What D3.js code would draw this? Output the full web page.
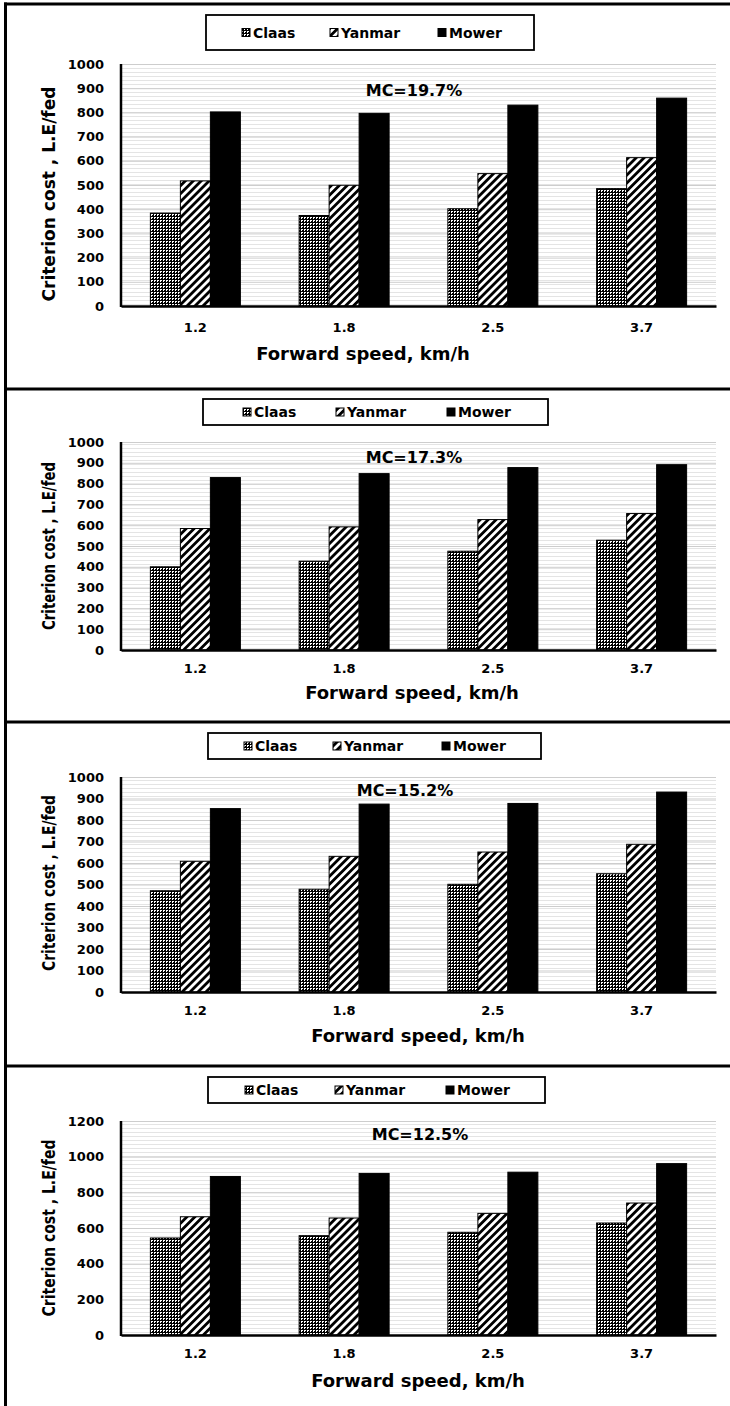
<!DOCTYPE html>
<html><head><meta charset="utf-8">
<script src="https://cdn.jsdelivr.net/npm/d3@7"></script>
<style>body{margin:0;background:#fff} svg{display:block} text{font-family:"DejaVu Sans",sans-serif}</style>
</head><body><svg id="c" width="730" height="1406"></svg>
<script>
// ---- data ----
const speeds = ["1.2", "1.8", "2.5", "3.7"];
const seriesNames = ["Claas", "Yanmar", "Mower"];
const mcLabels = ["MC=19.7%", "MC=17.3%", "MC=15.2%", "MC=12.5%"];
const claasValues  = [[384, 374, 402, 485], [400, 427, 475, 528], [471, 478, 501, 550], [544, 557, 576, 628]];
const yanmarValues = [[517, 499, 547, 613], [584, 592, 627, 656], [608, 631, 651, 687], [663, 656, 682, 740]];
const mowerValues  = [[802, 796, 830, 859], [829, 848, 877, 891], [853, 874, 877, 930], [889, 906, 913, 961]];
const yMaxes = [1000, 1000, 1000, 1200];
const yTicks1000 = [0, 100, 200, 300, 400, 500, 600, 700, 800, 900, 1000];
const yTicks1200 = [0, 200, 400, 600, 800, 1000, 1200];
const xTitleText = "Forward speed, km/h";
const yTitleText = "Criterion cost , L.E/fed";

// ---- layout ----
const layout = [
  {top:64,  base:306,  legY:15,   legH:35, legX0:206, legX1:534, icons:[242,330,438], mcX:414, mcY:90,   xlabY:327,  xtitX:363, xtitY:353,  ytitY:194,  ytitLen:215, ticks:yTicks1000},
  {top:442, base:650,  legY:399,  legH:26, legX0:203, legX1:548, icons:[243,336,447], mcX:414, mcY:457,  xlabY:668,  xtitX:412, xtitY:692,  ytitY:546,  ytitLen:168, ticks:yTicks1000},
  {top:777, base:992,  legY:733,  legH:26, legX0:208, legX1:541, icons:[244,333,442], mcX:405, mcY:790,  xlabY:1010, xtitX:418, xtitY:1035, ytitY:883,  ytitLen:176, ticks:yTicks1000},
  {top:1121,base:1335, legY:1077, legH:26, legX0:208, legX1:545, icons:[245,335,446], mcX:420, mcY:1134, xlabY:1353, xtitX:418, xtitY:1380, ytitY:1228, ytitLen:177, ticks:yTicks1200}
];
const plotX0 = 121, plotX1 = 716;

const svg = d3.select("#c");
const defs = svg.append("defs");

// background horizontal line texture
const hl = defs.append("pattern").attr("id","hl").attr("patternUnits","userSpaceOnUse").attr("width",10).attr("height",4);
hl.append("rect").attr("width",10).attr("height",4).attr("fill","#fff");
hl.append("rect").attr("y",0).attr("width",10).attr("height",1).attr("fill","#e4e4e4");

// Claas: fine dark checker/grid pattern
const pc = defs.append("pattern").attr("id","pClaas").attr("patternUnits","userSpaceOnUse").attr("width",3).attr("height",3);
pc.append("rect").attr("width",3).attr("height",3).attr("fill","#fff");
pc.append("rect").attr("width",3).attr("height",1).attr("fill","#000");
pc.append("rect").attr("width",1).attr("height",3).attr("fill","#000");
pc.append("rect").attr("x",2).attr("y",2).attr("width",1).attr("height",1).attr("fill","#000");

// Yanmar: wide upward diagonal
const py = defs.append("pattern").attr("id","pYanmar").attr("patternUnits","userSpaceOnUse")
  .attr("width",5.6).attr("height",10).attr("patternTransform","rotate(45)");
py.append("rect").attr("width",5.6).attr("height",10).attr("fill","#fff");
py.append("rect").attr("width",2.8).attr("height",10).attr("fill","#000");

const fills = {Claas:"url(#pClaas)", Yanmar:"url(#pYanmar)", Mower:"#000"};
const valueSets = {Claas:claasValues, Yanmar:yanmarValues, Mower:mowerValues};

layout.forEach((L, i) => {
  const g = svg.append("g");
  const x0 = d3.scaleBand().domain(speeds).range([plotX0, plotX1]).paddingInner(0.395).paddingOuter(0.1975);
  const x1 = d3.scaleBand().domain(seriesNames).range([0, x0.bandwidth()]);
  const y = d3.scaleLinear().domain([0, yMaxes[i]]).range([L.base, L.top]);

  // background texture
  g.append("rect").attr("x", plotX0).attr("y", y(yMaxes[i])).attr("width", plotX1 - plotX0)
    .attr("height", y(0) - y(yMaxes[i])).attr("fill", "url(#hl)");

  // major gridlines
  const grid = g.append("g").attr("transform", `translate(${plotX0},0)`)
    .call(d3.axisLeft(y).tickValues(L.ticks).tickSize(-(plotX1 - plotX0)).tickFormat(""));
  grid.select(".domain").remove();
  grid.selectAll("line").attr("stroke", "#cdcdcd").attr("stroke-width", 1);

  // bars
  speeds.forEach((sp, k) => {
    seriesNames.forEach(s => {
      const v = valueSets[s][i][k];
      g.append("rect")
        .attr("x", x0(sp) + x1(s)).attr("y", y(v))
        .attr("width", x1.bandwidth()).attr("height", y(0) - y(v))
        .attr("fill", fills[s]).attr("stroke", "#000").attr("stroke-width", 1);
    });
  });

  // y axis labels
  const ya = g.append("g").attr("transform", `translate(${plotX0},0)`)
    .call(d3.axisLeft(y).tickValues(L.ticks).tickSize(0).tickPadding(17).tickFormat(d3.format("d")));
  ya.select(".domain").remove();
  ya.selectAll("text").attr("font-family", "DejaVu Sans").attr("font-weight", "bold").attr("font-size", 13).attr("fill", "#000");
  g.append("line").attr("x1", plotX0).attr("x2", plotX0).attr("y1", y(yMaxes[i])).attr("y2", y(0) + 1)
    .attr("stroke", "#000").attr("stroke-width", 2.5);

  // x axis
  const xa = g.append("g").attr("transform", `translate(0,${L.base})`)
    .call(d3.axisBottom(x0).tickSize(0).tickSizeOuter(0).tickPadding(L.xlabY - L.base - 4.5));
  xa.select(".domain").attr("stroke", "#000").attr("stroke-width", 2.5);
  xa.selectAll("text").attr("font-family", "DejaVu Sans").attr("font-weight", "bold").attr("font-size", 13).attr("fill", "#000");

  // MC label
  g.append("text").attr("x", L.mcX).attr("y", L.mcY).attr("text-anchor", "middle").attr("dominant-baseline", "central")
    .attr("font-weight", "bold").attr("font-size", 16).text(mcLabels[i]);

  // axis titles
  g.append("text").attr("x", L.xtitX).attr("y", L.xtitY).attr("text-anchor", "middle").attr("dominant-baseline", "central")
    .attr("font-weight", "bold").attr("font-size", 18).text(xTitleText);
  g.append("text").attr("transform", `translate(49,${L.ytitY}) rotate(-90)`).attr("text-anchor", "middle")
    .attr("dominant-baseline", "central").attr("font-weight", "bold").attr("font-size", 17)
    .attr("textLength", L.ytitLen).attr("lengthAdjust", "spacingAndGlyphs").text(yTitleText);

  // legend
  g.append("rect").attr("x", L.legX0).attr("y", L.legY).attr("width", L.legX1 - L.legX0).attr("height", L.legH)
    .attr("fill", "#fff").attr("stroke", "#000").attr("stroke-width", 1.8);
  const cy = L.legY + L.legH / 2;
  seriesNames.forEach((s, j) => {
    g.append("rect").attr("x", L.icons[j]).attr("y", cy - 4).attr("width", 8).attr("height", 8)
      .attr("fill", fills[s]).attr("stroke", "#000").attr("stroke-width", 1);
    g.append("text").attr("x", L.icons[j] + 11).attr("y", cy).attr("dominant-baseline", "central")
      .attr("font-weight", "bold").attr("font-size", 14).text(s);
  });
});

// frame lines
svg.append("line").attr("x1", 4).attr("x2", 730).attr("y1", 4).attr("y2", 4).attr("stroke", "#000").attr("stroke-width", 3);
[389, 722, 1066].forEach(yy => {
  svg.append("line").attr("x1", 4).attr("x2", 730).attr("y1", yy).attr("y2", yy).attr("stroke", "#000").attr("stroke-width", 3);
});
svg.append("line").attr("x1", 5.5).attr("x2", 5.5).attr("y1", 2.5).attr("y2", 1406).attr("stroke", "#000").attr("stroke-width", 3);
</script>
</body></html>
